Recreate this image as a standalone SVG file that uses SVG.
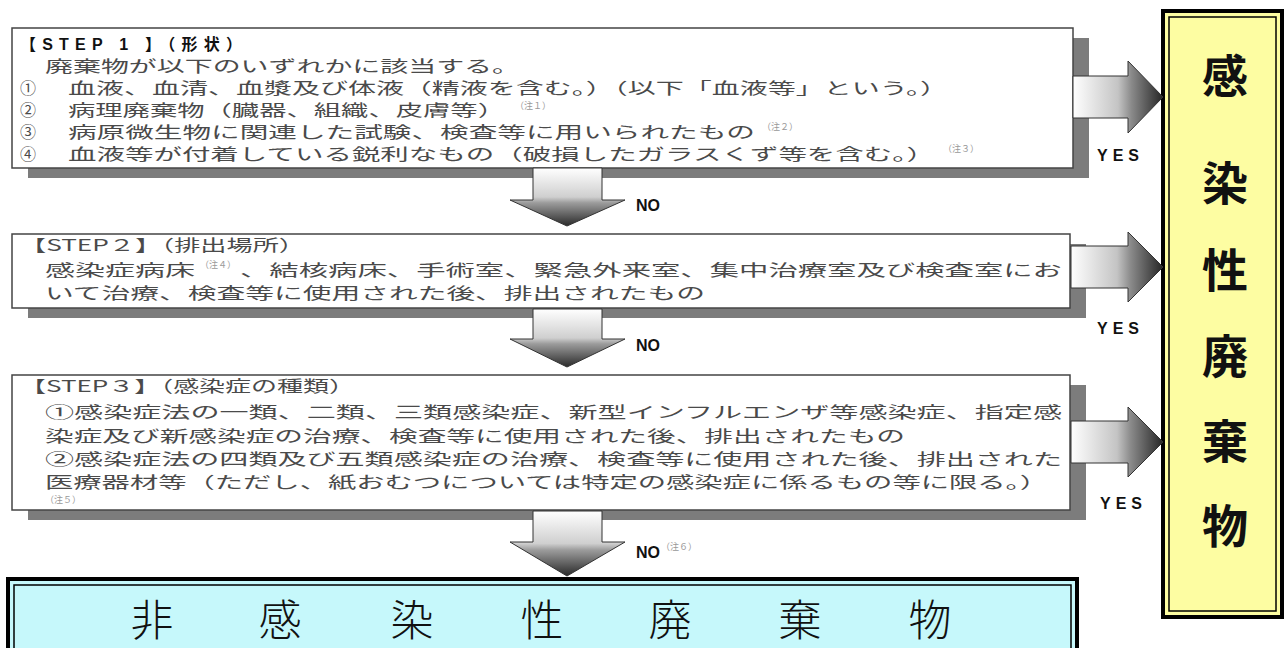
<svg xmlns="http://www.w3.org/2000/svg" width="1284" height="648" viewBox="0 0 1284 648">
<style>
.box{fill:#fff;stroke:#444;stroke-width:1.5}
.shadow{fill:#7c7c7c}
.t{font-family:"Noto Sans CJK JP","Liberation Sans",sans-serif;font-size:16px;fill:#4a4a4a}
.h1{font-family:"Liberation Sans","Noto Sans CJK JP",sans-serif;font-size:16px;font-weight:bold;fill:#111}
.sup{font-family:"Noto Sans CJK JP",sans-serif;font-size:9px;fill:#999}
.lbl{font-family:"Liberation Sans",Arial,sans-serif;font-size:16px;font-weight:bold;fill:#111}
.big{font-family:"Noto Sans CJK JP",sans-serif;font-size:46px;font-weight:bold;fill:#111;text-anchor:middle}
.non{font-family:"Noto Sans CJK JP",sans-serif;font-size:43px;font-weight:300;fill:#111;text-anchor:middle}
.arr{stroke:#333;stroke-width:1}
</style>
<defs>
<linearGradient id="gv" x1="0" y1="0" x2="0" y2="1">
<stop offset="0" stop-color="#ffffff"/>
<stop offset="0.5" stop-color="#cfcfcf"/>
<stop offset="0.6" stop-color="#9c9c9c"/>
<stop offset="1" stop-color="#2a2a2a"/>
</linearGradient>
<linearGradient id="gh" x1="0" y1="0" x2="1" y2="0">
<stop offset="0" stop-color="#ffffff"/>
<stop offset="0.5" stop-color="#c4c4c4"/>
<stop offset="0.65" stop-color="#8a8a8a"/>
<stop offset="1" stop-color="#262626"/>
</linearGradient>
</defs>
<rect width="1284" height="648" fill="#fff"/>

<g id="step1">
<rect class="shadow" x="28" y="38" width="1061" height="140"/>
<rect class="box" x="12" y="28" width="1061" height="140"/>
<text class="h1" x="20" y="50" textLength="222" lengthAdjust="spacing">【STEP 1 】（形状）</text>
<text class="t" x="45" y="72" textLength="475" lengthAdjust="spacingAndGlyphs">廃棄物が以下のいずれかに該当する。</text>
<text class="t" x="20" y="94">①</text>
<text class="t" x="68" y="94" textLength="880" lengthAdjust="spacingAndGlyphs">血液、血清、血漿及び体液（精液を含む。）（以下「血液等」という。）</text>
<text class="t" x="20" y="116">②</text>
<text class="t" x="68" y="116" textLength="437" lengthAdjust="spacingAndGlyphs">病理廃棄物（臓器、組織、皮膚等）</text>
<text class="sup" x="515" y="109">（注１）</text>
<text class="t" x="20" y="138">③</text>
<text class="t" x="68" y="138" textLength="687" lengthAdjust="spacingAndGlyphs">病原微生物に関連した試験、検査等に用いられたもの</text>
<text class="sup" x="762" y="130">（注２）</text>
<text class="t" x="20" y="160">④</text>
<text class="t" x="68" y="160" textLength="867" lengthAdjust="spacingAndGlyphs">血液等が付着している鋭利なもの（破損したガラスくず等を含む。）</text>
<text class="sup" x="943" y="152">（注３）</text>
</g>

<g id="step2">
<rect class="shadow" x="28" y="244" width="1058" height="74"/>
<rect class="box" x="12" y="234" width="1058" height="74"/>
<text class="t" x="20" y="251" textLength="285" lengthAdjust="spacingAndGlyphs">【STEP２】（排出場所）</text>
<text class="t" x="45" y="276" textLength="150" lengthAdjust="spacingAndGlyphs">感染症病床</text>
<text class="sup" x="200" y="268">（注４）</text>
<text class="t" x="240" y="276" textLength="822" lengthAdjust="spacingAndGlyphs">、結核病床、手術室、緊急外来室、集中治療室及び検査室にお</text>
<text class="t" x="45" y="299" textLength="660" lengthAdjust="spacingAndGlyphs">いて治療、検査等に使用された後、排出されたもの</text>
</g>

<g id="step3">
<rect class="shadow" x="28" y="385" width="1058" height="135"/>
<rect class="box" x="12" y="375" width="1058" height="135"/>
<text class="t" x="20" y="392" textLength="335" lengthAdjust="spacingAndGlyphs">【STEP３】（感染症の種類）</text>
<text class="t" x="45" y="418" textLength="1017" lengthAdjust="spacingAndGlyphs">①感染症法の一類、二類、三類感染症、新型インフルエンザ等感染症、指定感</text>
<text class="t" x="45" y="442" textLength="860" lengthAdjust="spacingAndGlyphs">染症及び新感染症の治療、検査等に使用された後、排出されたもの</text>
<text class="t" x="45" y="465" textLength="1017" lengthAdjust="spacingAndGlyphs">②感染症法の四類及び五類感染症の治療、検査等に使用された後、排出された</text>
<text class="t" x="45" y="488" textLength="1003" lengthAdjust="spacingAndGlyphs">医療器材等（ただし、紙おむつについては特定の感染症に係るもの等に限る。）</text>
<text class="sup" x="45" y="503">（注５）</text>
</g>

<g id="infectious">
<rect x="1163" y="11" width="119" height="606" fill="#fdfda2" stroke="#000" stroke-width="4"/>
<rect x="1169" y="17" width="107" height="594" fill="none" stroke="#000" stroke-width="1.5"/>
<text class="big" x="1225" y="93">感</text>
<text class="big" x="1225" y="200">染</text>
<text class="big" x="1225" y="287">性</text>
<text class="big" x="1225" y="373">廃</text>
<text class="big" x="1225" y="458">棄</text>
<text class="big" x="1225" y="543">物</text>
</g>

<g id="noninfectious">
<rect x="8" y="579" width="1069" height="80" fill="#c6f8fb" stroke="#000" stroke-width="4"/>
<rect x="14" y="585" width="1057" height="70" fill="none" stroke="#000" stroke-width="1.5"/>
<text class="non" x="152" y="636">非</text>
<text class="non" x="280" y="636">感</text>
<text class="non" x="412" y="636">染</text>
<text class="non" x="542" y="636">性</text>
<text class="non" x="670" y="636">廃</text>
<text class="non" x="800" y="636">棄</text>
<text class="non" x="930" y="636">物</text>
</g>

<g id="connectors">
<polygon class="arr" fill="url(#gv)" points="533,168 602,168 602,200 625,200 567,226 510,200 533,200"/>
<polygon class="arr" fill="url(#gv)" points="533,309 602,309 602,339 625,339 567,367 510,339 533,339"/>
<polygon class="arr" fill="url(#gv)" points="533,511 602,511 602,542 625,542 567,576 510,542 533,542"/>
<text class="lbl" x="636" y="211">NO</text>
<text class="lbl" x="636" y="351">NO</text>
<text class="lbl" x="636" y="558">NO</text>
<text class="sup" x="661" y="550">（注６）</text>

<polygon class="arr" fill="url(#gh)" points="1073,76 1128,76 1128,61 1163,97 1128,133 1128,118 1073,118"/>
<polygon class="arr" fill="url(#gh)" points="1071,246 1128,246 1128,232 1163,267 1128,302 1128,288 1071,288"/>
<polygon class="arr" fill="url(#gh)" points="1071,421 1128,421 1128,407 1163,442 1128,477 1128,463 1071,463"/>
<text class="lbl" x="1097" y="161" textLength="42">YES</text>
<text class="lbl" x="1097" y="334" textLength="42">YES</text>
<text class="lbl" x="1100" y="509" textLength="42">YES</text>
</g>
</svg>
